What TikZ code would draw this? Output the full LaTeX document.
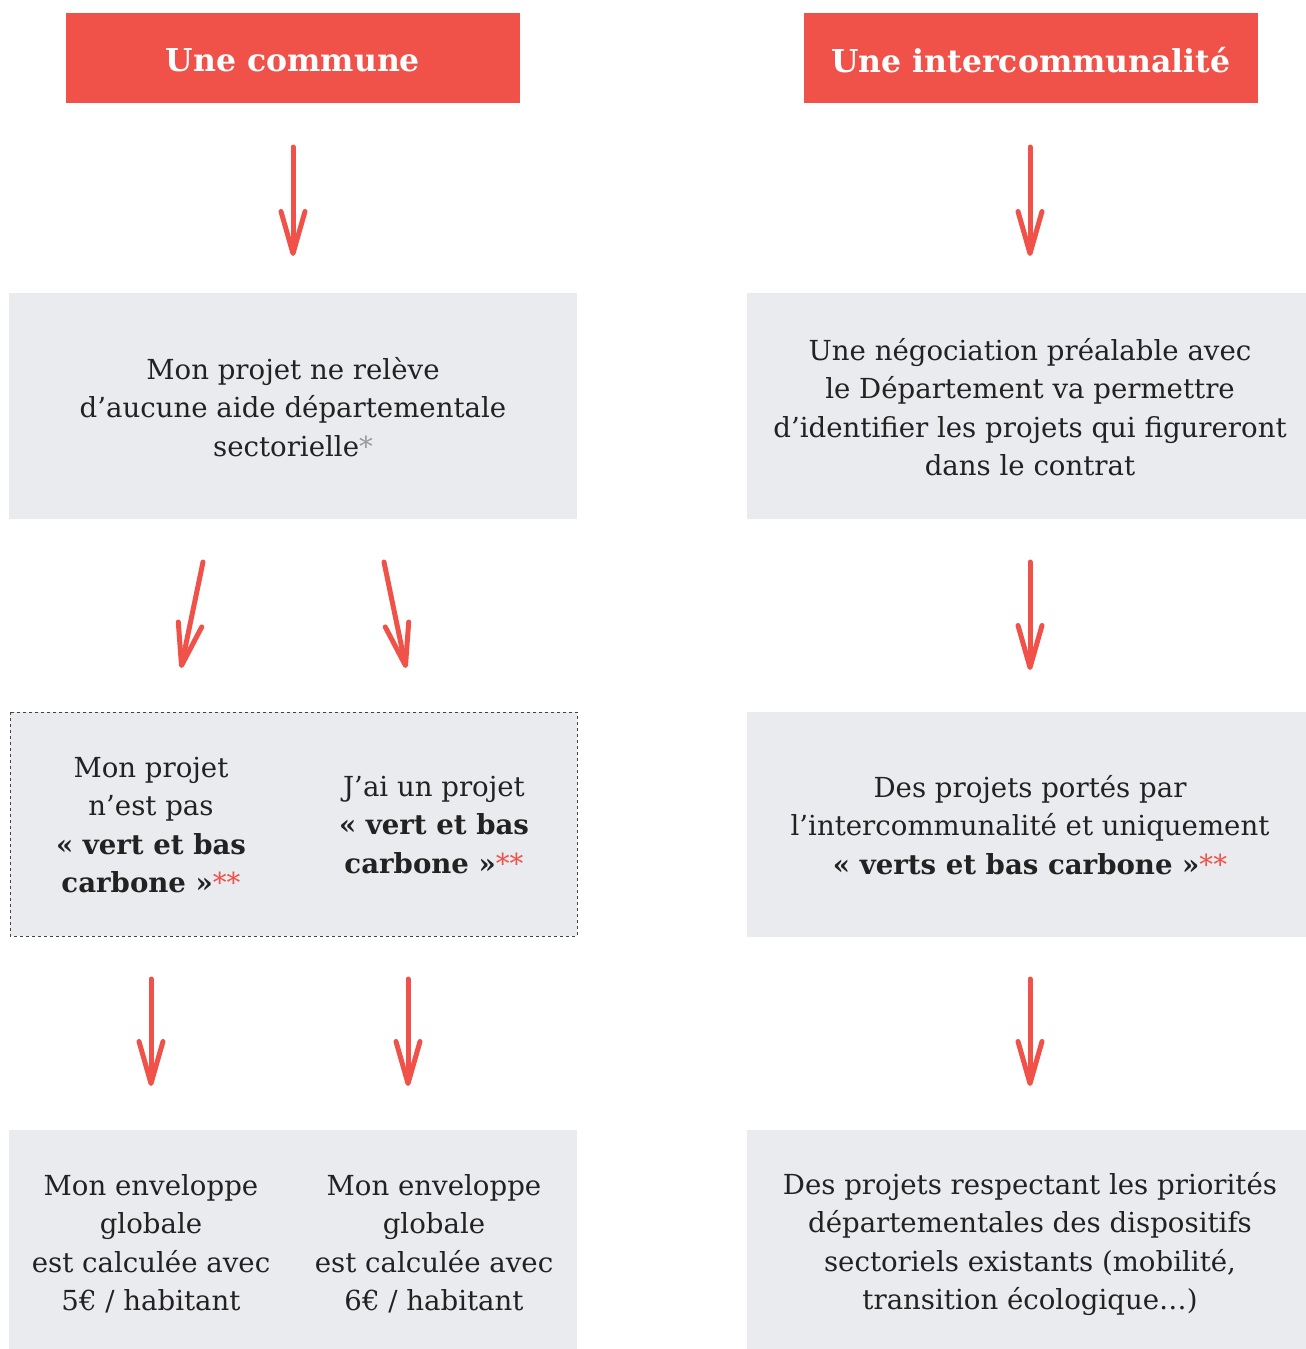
\documentclass[tikz,border=0pt]{standalone}
\usepackage{fontspec}
\setmainfont{DejaVu Serif}
\usetikzlibrary{arrows.meta}
\definecolor{rouge}{HTML}{F0524A}
\definecolor{gris}{HTML}{EAEBEE}
\definecolor{ast}{HTML}{9A9A9A}
\definecolor{txt}{HTML}{222222}
\tikzset{
  header/.style={fill=rouge, text=white, font=\fontsize{31.5}{40}\selectfont\bfseries, inner sep=0pt},
  panel/.style={fill=gris, inner sep=0pt},
  dashpanel/.style={fill=gris, draw=txt!85, dashed, line width=0.9pt, inner sep=0pt},
  body/.style={text=txt, align=center, font=\fontsize{27.6}{38.5}\selectfont, inner sep=0pt},
  handarrow/.style={draw=rouge, line width=5pt, line cap=round,
    -{Straight Barb[length=42pt,width=24pt,line cap=round,line join=round]}},
}
\begin{document}
\begin{tikzpicture}[x=1pt,y=-1pt]
\useasboundingbox (0,0) rectangle (1306,1349);
% headers
\path[fill=rouge] (66,13) rectangle (520,103);
\node[header] (h1) at (293,60) {Une commune};
\path[fill=rouge] (804,13) rectangle (1258,103);
\node[header] (h2) at (1031,60) {Une intercommunalité};
% panels
\path[panel] (9,293) rectangle (577,519);
\path[panel] (747,293) rectangle (1306,519);
\path[dashpanel] (10,712) rectangle (577,936);
\path[panel] (747,712) rectangle (1306,937);
\path[panel] (9,1130) rectangle (577,1349);
\path[panel] (747,1130) rectangle (1306,1349);
% texts
\node[body] (b1) at (293,407) {Mon projet ne relève\\d’aucune aide départementale\\sectorielle\textcolor{ast}{*}};
\node[body] (b2) at (1030,407) {Une négociation préalable avec\\le Département va permettre\\d’identifier les projets qui figureront\\dans le contrat};
\node[body] (c1) at (151,825) {Mon projet\\n’est pas\\\textbf{« vert et bas}\\\textbf{carbone »}\textcolor{rouge}{**}};
\node[body] (c2) at (434,825) {J’ai un projet\\\textbf{« vert et bas}\\\textbf{carbone »}\textcolor{rouge}{**}};
\node[body] (c3) at (1030,825) {Des projets portés par\\l’intercommunalité et uniquement\\\textbf{« verts et bas carbone »}\textcolor{rouge}{**}};
\node[body] (d1) at (151,1244) {Mon enveloppe\\globale\\est calculée avec\\5€ / habitant};
\node[body] (d2) at (434,1244) {Mon enveloppe\\globale\\est calculée avec\\6€ / habitant};
\node[body] (d3) at (1030,1244) {Des projets respectant les priorités\\départementales des dispositifs\\sectoriels existants (mobilité,\\transition écologique…)};
% arrow coordinates
\coordinate (a1s) at (293,147); \coordinate (a1e) at (293,256);
\coordinate (a2s) at (1030,147); \coordinate (a2e) at (1030,256);
\coordinate (a3s) at (203,562); \coordinate (a3e) at (181,668);
\coordinate (a4s) at (384,562); \coordinate (a4e) at (406,668);
\coordinate (a5s) at (1030,562); \coordinate (a5e) at (1030,670);
\coordinate (a6s) at (151,979); \coordinate (a6e) at (151,1086);
\coordinate (a7s) at (408,979); \coordinate (a7e) at (408,1086);
\coordinate (a8s) at (1030,979); \coordinate (a8e) at (1030,1086);
\foreach \i in {1,...,8}{\draw[handarrow] (a\i s) -- (a\i e);}
\end{tikzpicture}
\end{document}
